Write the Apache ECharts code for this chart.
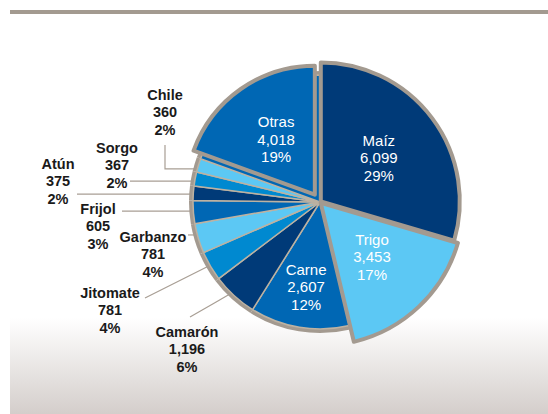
<!DOCTYPE html>
<html>
<head>
<meta charset="utf-8">
<script src="https://cdn.jsdelivr.net/npm/echarts@6/dist/echarts.min.js"></script>
<style>
  html, body { margin: 0; padding: 0; background: #fff; }
  #chart { width: 548px; height: 414px; }
</style>
</head>
<body>
<div id="chart"></div>
<script>
var names = ['Maíz', 'Trigo', 'Carne', 'Camarón', 'Jitomate', 'Garbanzo', 'Frijol', 'Atún', 'Sorgo', 'Chile', 'Otras'];
var values = [6099, 3453, 2607, 1196, 781, 781, 605, 375, 367, 360, 4018];
var percents = ['29%', '17%', '12%', '6%', '4%', '4%', '3%', '2%', '2%', '2%', '19%'];

var navy = '#003a78', sky = '#5cc8f4', mid = '#0067b4', bright = '#0089d0';
var sliceColors = [navy, sky, mid, navy, bright, sky, mid, navy, bright, sky, mid];
var ringGray = '#a39a90', sepTan = '#bdb2a2', leader = '#a89e94';
var font = 'Liberation Sans';

var cx = 320, cy = 202;
var total = values.reduce(function (a, b) { return a + b; }, 0);

function midAngle(i) {
  var s = 0;
  for (var k = 0; k < i; k++) s += values[k];
  return (90 - (s + values[i] / 2) / total * 360) * Math.PI / 180;
}
function polar(i, r) {
  var a = midAngle(i);
  return [cx + r * Math.cos(a), cy - r * Math.sin(a)];
}

// label placement (layout only)
var insideDist = { 0: 72, 1: 88, 2: 86, 10: 89 };
var outside = {
  3: { x: 187, y: 349, lx: 190, ly: 317 },
  4: { x: 110, y: 310, lx: 145, ly: 298 },
  5: { x: 153, y: 254, lx: 188, flat: true },
  6: { x: 98, y: 226, lx: 122, flat: true },
  7: { x: 58, y: 181, lx: 77, flat: true },
  8: { x: 117, y: 165, lx: 130, flat: true },
  9: { x: 165, y: 112, lx: 165, ly: 145, elbow: true }
};

function fmt(i) {
  return names[i] + '\n' + values[i].toLocaleString('en-US') + '\n' + percents[i];
}

function layoutLabel(p) {
  var i = p.dataIndex;
  var o = outside[i];
  if (o) {
    var a = polar(i, 115);
    var pts;
    if (o.elbow) pts = [a, [o.lx, a[1]], [o.lx, o.ly]];
    else if (o.flat) pts = [a, [(a[0] + o.lx) / 2, a[1]], [o.lx, a[1]]];
    else pts = [a, [(a[0] + o.lx) / 2, (a[1] + o.ly) / 2], [o.lx, o.ly]];
    return { x: o.x, y: o.y, align: 'center', verticalAlign: 'middle', labelLinePoints: pts };
  }
  var q = polar(i, insideDist[i] || 70);
  return { x: q[0], y: q[1], align: 'center', verticalAlign: 'middle' };
}

var insideLabel = { show: true, position: 'inside', color: '#fff', fontSize: 15, fontFamily: font, lineHeight: 17.5, formatter: function (p) { return fmt(p.dataIndex); } };
var outsideLabel = { show: true, position: 'outside', color: '#1a1a1a', fontSize: 14.5, fontWeight: 'bold', fontFamily: font, lineHeight: 17.5, formatter: function (p) { return fmt(p.dataIndex); } };

function baseData() {
  return values.map(function (v, i) {
    var d = { value: v, name: names[i], itemStyle: { color: sliceColors[i] } };
    if (i === 0 || i === 1 || i === 10) {
      d.label = { show: false };
      d.labelLine = { show: false };
    } else if (i === 2) {
      d.label = insideLabel;
      d.labelLine = { show: false };
    } else {
      d.label = outsideLabel;
      d.labelLine = { show: true, lineStyle: { color: leader, width: 1.2 } };
    }
    return d;
  });
}

function popData(idx) {
  return values.map(function (v, i) {
    if (i === idx) {
      return { value: v, name: names[i], selected: true, itemStyle: { color: sliceColors[i], borderColor: ringGray, borderWidth: 4 }, label: insideLabel };
    }
    return { value: v, name: names[i], itemStyle: { color: 'rgba(0,0,0,0)', borderWidth: 0 }, label: { show: false }, labelLine: { show: false } };
  });
}

function popSeries(idx, r, offset) {
  return {
    type: 'pie', center: [cx, cy], radius: r, startAngle: 90, clockwise: true,
    avoidLabelOverlap: false, silent: true, emphasis: { disabled: true },
    selectedMode: 'single', selectedOffset: offset,
    itemStyle: { borderJoin: 'round' },
    labelLayout: layoutLabel,
    data: popData(idx)
  };
}

var chart = echarts.init(document.getElementById('chart'), null, { renderer: 'svg' });
chart.setOption({
  animation: false,
  graphic: [
    { type: 'rect', z: -10, shape: { x: 10, y: 10, width: 538, height: 4 }, style: { fill: ringGray } },
    {
      type: 'rect', z: -10, shape: { x: 10, y: 318, width: 538, height: 96 },
      style: {
        fill: {
          type: 'linear', x: 0, y: 0, x2: 0, y2: 1,
          colorStops: [{ offset: 0, color: '#ffffff' }, { offset: 1, color: '#d4cecb' }]
        }
      }
    }
  ],
  series: [
    {
      type: 'pie', center: [cx, cy], radius: 131, startAngle: 90, clockwise: true,
      silent: true, label: { show: false }, labelLine: { show: false },
      itemStyle: { color: ringGray, borderWidth: 0 },
      data: values.map(function (v, i) { return { value: v, name: names[i] }; })
    },
    {
      type: 'pie', center: [cx, cy], radius: 127, startAngle: 90, clockwise: true,
      avoidLabelOverlap: false, silent: true, emphasis: { disabled: true },
      itemStyle: { borderColor: sepTan, borderWidth: 1.5 },
      labelLayout: layoutLabel,
      data: baseData()
    },
    popSeries(10, 129, 9),
    popSeries(0, 139, 1),
    popSeries(1, 143, 1)
  ]
});
window.addEventListener('resize', function () { chart.resize(); });
</script>
</body>
</html>
